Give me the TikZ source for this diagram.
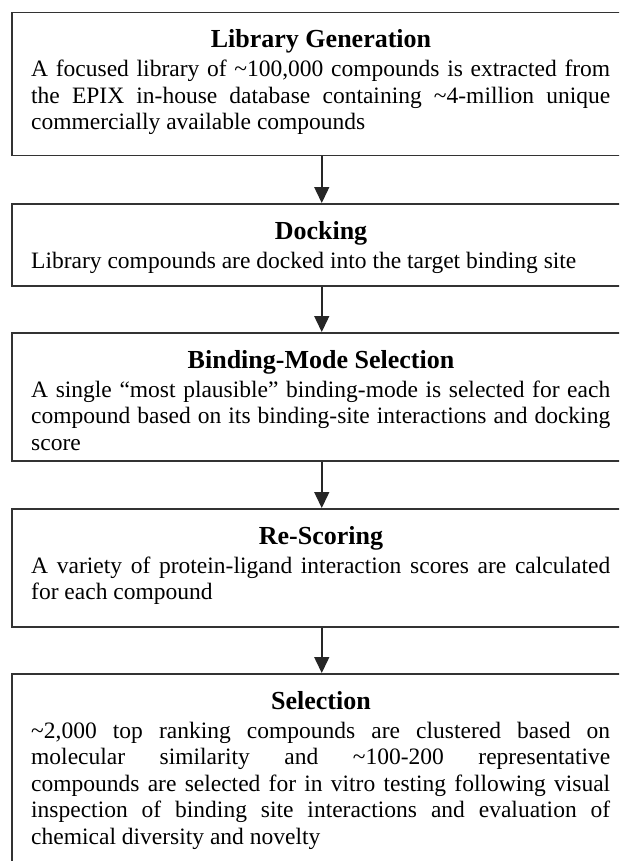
\documentclass[tikz,border=0pt]{standalone}
\usepackage{fontspec}
\setmainfont{Liberation Serif}
\usetikzlibrary{arrows.meta}
\hyphenpenalty=10000
\tolerance=10000
\begin{document}
\begin{tikzpicture}[x=1pt,y=1pt,
  box/.style={draw=black!80, line width=1.5pt, minimum width=620pt, inner sep=0pt, anchor=north west},
  ttl/.style={font=\fontsize{26}{30}\selectfont\bfseries, anchor=base, inner sep=0pt},
  body/.style={font=\fontsize{23.5}{26.5}\selectfont, text width=579pt, align=justify, anchor=base west, inner sep=0pt},
  arr/.style={-{Triangle[width=15pt,length=16pt]}, line width=1.5pt, draw=black!85}]
\useasboundingbox (0,0) rectangle (619,-861);
\clip (0,0) rectangle (619,-861);
\fill[white] (0,0) rectangle (619,-861);

\node[box, minimum height=143pt] (b1) at (11,-12) {};
\node[ttl] (t1) at (321,-48) {Library Generation};
\node[body] (d1) at (31,-77) {A focused library of \textasciitilde100,000 compounds is extracted from\linebreak the EPIX in-house database containing \textasciitilde4-million unique\linebreak commercially available compounds};

\node[box, minimum height=82pt] (b2) at (11,-203) {};
\node[ttl] (t2) at (321,-239) {Docking};
\node[body] (d2) at (31,-268) {Library compounds are docked into the target binding site};

\node[box, minimum height=128pt] (b3) at (11,-332) {};
\node[ttl] (t3) at (321,-368) {Binding-Mode Selection};
\node[body] (d3) at (31,-397) {A single “most plausible” binding-mode is selected for each\linebreak compound based on its binding-site interactions and docking\linebreak score};

\node[box, minimum height=118pt] (b4) at (11,-508) {};
\node[ttl] (t4) at (321,-544) {Re-Scoring};
\node[body] (d4) at (31,-573) {A variety of protein-ligand interaction scores are calculated\linebreak for each compound};

\node[box, minimum height=220pt] (b5) at (11,-673) {};
\node[ttl] (t5) at (321,-709) {Selection};
\node[body] (d5) at (31,-738) {\textasciitilde2,000 top ranking compounds are clustered based on\linebreak molecular similarity and \textasciitilde100-200 representative\linebreak compounds are selected for in vitro testing following visual\linebreak inspection of binding site interactions and evaluation of\linebreak chemical diversity and novelty};

\draw[arr] (b1.south) -- (b2.north);
\draw[arr] (b2.south) -- (b3.north);
\draw[arr] (b3.south) -- (b4.north);
\draw[arr] (b4.south) -- (b5.north);
\end{tikzpicture}
\end{document}
